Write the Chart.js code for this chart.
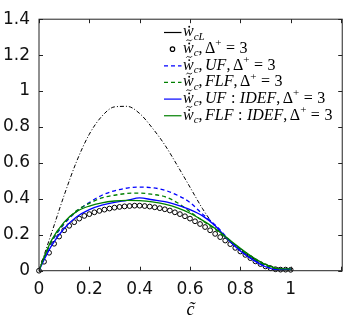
<!DOCTYPE html>
<html>
<head>
<meta charset="utf-8">
<script src="https://cdn.jsdelivr.net/npm/chart.js@4/dist/chart.umd.min.js"></script>
<style>
  body { margin: 0; background: #fff; }
</style>
</head>
<body>
<canvas id="rateChart" width="350" height="330"></canvas>
<script>
// progress variable grid for the line series
const cGrid = [0, 0.02, 0.05, 0.1, 0.15, 0.2, 0.25, 0.3, 0.35, 0.4, 0.45, 0.5,
  0.55, 0.6, 0.65, 0.7, 0.75, 0.8, 0.85, 0.9, 0.95, 1.0];

// laminar reaction rate (dash-dot black)
const wLaminar = [0, 0.085, 0.21, 0.42, 0.61, 0.76, 0.86, 0.912, 0.915, 0.875, 0.795, 0.70,
  0.585, 0.465, 0.345, 0.245, 0.17, 0.115, 0.07, 0.035, 0.015, 0.01];

// filtered rates, Delta+ = 3
const wUF = [0, 0.07, 0.16, 0.26, 0.33, 0.38, 0.42, 0.445, 0.46, 0.465, 0.462, 0.448,
  0.42, 0.38, 0.315, 0.255, 0.18, 0.115, 0.065, 0.025, 0.008, 0.008];
const wFLF = [0, 0.07, 0.165, 0.265, 0.335, 0.375, 0.405, 0.42, 0.43, 0.432, 0.425, 0.412,
  0.378, 0.328, 0.278, 0.23, 0.175, 0.12, 0.07, 0.03, 0.01, 0.008];
const wUFIdef = [0, 0.06, 0.14, 0.235, 0.3, 0.34, 0.365, 0.38, 0.392, 0.405, 0.395, 0.385,
  0.365, 0.34, 0.305, 0.25, 0.175, 0.11, 0.06, 0.022, 0.005, 0.01];
const wFLFIdef = [0, 0.075, 0.17, 0.27, 0.33, 0.36, 0.378, 0.388, 0.392, 0.39, 0.383, 0.37,
  0.35, 0.32, 0.28, 0.235, 0.18, 0.125, 0.075, 0.035, 0.012, 0.01];

// DNS filtered rate (open circles)
const cDns = [0, 0.02, 0.04, 0.06, 0.08, 0.1, 0.12, 0.14, 0.16, 0.18, 0.2, 0.22, 0.24, 0.26,
  0.28, 0.3, 0.32, 0.34, 0.36, 0.38, 0.4, 0.42, 0.44, 0.46, 0.48, 0.5, 0.52, 0.54, 0.56,
  0.58, 0.6, 0.62, 0.64, 0.66, 0.68, 0.7, 0.72, 0.74, 0.76, 0.78, 0.8, 0.82, 0.84, 0.86,
  0.88, 0.9, 0.92, 0.94, 0.96, 0.98, 1.0];
const wDns = [0, 0.05, 0.1, 0.15, 0.19, 0.225, 0.25, 0.27, 0.29, 0.305, 0.315, 0.325, 0.333,
  0.34, 0.346, 0.351, 0.355, 0.358, 0.36, 0.362, 0.362, 0.36, 0.357, 0.353, 0.348, 0.342,
  0.335, 0.325, 0.315, 0.303, 0.29, 0.275, 0.26, 0.243, 0.225, 0.205, 0.187, 0.168, 0.148,
  0.127, 0.107, 0.088, 0.07, 0.052, 0.037, 0.024, 0.014, 0.008, 0.006, 0.006, 0.005];

const xTicks = [0, 0.2, 0.4, 0.6, 0.8, 1, 1.2];
const xTickLabels = ["0", "0.2", "0.4", "0.6", "0.8", "1", ""];
const yTicks = [0, 0.2, 0.4, 0.6, 0.8, 1, 1.2, 1.4];
const yTickLabels = ["0", "0.2", "0.4", "0.6", "0.8", "1", "1.2", "1.4"];

const pts = (xs, ys) => xs.map((x, i) => ({ x: x, y: ys[i] }));

// legend text pieces: t = text, it = italic, sub/sup, acc = accent over glyph
const W = { t: "w", it: true, acc: "tdot" };
const cSub = { t: "c", it: true, sub: true };
const comma = { t: ",", post: 2.5 };
const deltaTail = [{ t: "Δ" }, { t: "+", sup: true }, { t: "=", pre: 4.5, post: 4.5 }, { t: "3" }];
const legendLabels = [
  [{ t: "w", it: true, acc: "dot" }, { t: "cL", it: true, sub: true }],
  [W, cSub, comma].concat(deltaTail),
  [W, cSub, comma, { t: "UF", it: true }, comma].concat(deltaTail),
  [W, cSub, comma, { t: "FLF", it: true }, comma].concat(deltaTail),
  [W, cSub, comma, { t: "UF", it: true }, { t: ":", pre: 4.5, post: 4.5 }, { t: "IDEF", it: true }, comma].concat(deltaTail),
  [W, cSub, comma, { t: "FLF", it: true }, { t: ":", pre: 4.5, post: 4.5 }, { t: "IDEF", it: true }, comma].concat(deltaTail)
];

function drawMath(ctx, segs, x, y) {
  ctx.fillStyle = "#000";
  ctx.textBaseline = "alphabetic";
  ctx.textAlign = "left";
  segs.forEach(function (s) {
    const small = s.sub || s.sup;
    ctx.font = (s.it ? "italic " : "") + (small ? 11 : 16) + "px 'Liberation Serif'";
    const dy = s.sub ? 3.5 : (s.sup ? -6.5 : 0);
    x += s.pre || 0;
    ctx.fillText(s.t, x, y + dy);
    const w = ctx.measureText(s.t).width;
    if (s.acc) {
      const cx = x + w * 0.58;
      ctx.beginPath();
      ctx.arc(cx, y - 9.5, 0.95, 0, Math.PI * 2);
      ctx.fill();
      if (s.acc === "tdot") {
        ctx.save();
        ctx.strokeStyle = "#000";
        ctx.lineWidth = 0.9;
        ctx.beginPath();
        ctx.moveTo(cx - 2.8, y - 12);
        ctx.bezierCurveTo(cx - 1.5, y - 14.2, cx - 0.5, y - 12.4, cx, y - 12.6);
        ctx.bezierCurveTo(cx + 0.6, y - 12.8, cx + 1.5, y - 11.2, cx + 2.8, y - 13.4);
        ctx.stroke();
        ctx.restore();
      }
    }
    x += w + (s.post || 0);
  });
}

const boxPlugin = {
  id: "boxAndLegend",
  afterDatasetsDraw(chart) {
    const ctx = chart.ctx;
    const a = chart.chartArea;
    const xs = chart.scales.x, ys = chart.scales.y;
    ctx.save();
    ctx.strokeStyle = "#222";
    ctx.lineWidth = 1;
    ctx.strokeRect(a.left, a.top, a.right - a.left, a.bottom - a.top);
    ctx.beginPath();
    xTicks.forEach(function (v) {
      const px = Math.round(xs.getPixelForValue(v)) + 0.5;
      ctx.moveTo(px, a.bottom); ctx.lineTo(px, a.bottom - 4);
      ctx.moveTo(px, a.top); ctx.lineTo(px, a.top + 4);
    });
    yTicks.forEach(function (v) {
      const py = Math.round(ys.getPixelForValue(v)) + 0.5;
      ctx.moveTo(a.left, py); ctx.lineTo(a.left + 4, py);
      ctx.moveTo(a.right, py); ctx.lineTo(a.right - 4, py);
    });
    ctx.stroke();
    ctx.restore();
  },
  afterDraw(chart) {
    const ctx = chart.ctx;
    ctx.save();
    chart.data.datasets.forEach(function (ds, i) {
      const ly = 32.5 + i * 16.65;
      if (ds.showLine === false) {
        ctx.strokeStyle = ds.borderColor;
        ctx.lineWidth = 1.2;
        ctx.beginPath();
        ctx.arc(172.5, ly, 2.2, 0, Math.PI * 2);
        ctx.stroke();
      } else {
        ctx.strokeStyle = ds.borderColor;
        ctx.lineWidth = 1.2;
        ctx.setLineDash(i === 0 ? [] : (ds.borderDash || []));
        ctx.beginPath();
        ctx.moveTo(164, ly); ctx.lineTo(181.5, ly);
        ctx.stroke();
        ctx.setLineDash([]);
      }
      drawMath(ctx, legendLabels[i], 183, ly + 3.8);
    });
    ctx.restore();
  }
};

const lineStyle = { showLine: true, pointRadius: 0, cubicInterpolationMode: "monotone", borderWidth: 1.3 };

new Chart(document.getElementById("rateChart"), {
  type: "scatter",
  data: {
    datasets: [
      Object.assign({}, lineStyle, { label: "cL", data: pts(cGrid, wLaminar), borderColor: "#000", borderWidth: 1, borderDash: [4, 2, 1, 2], order: 6 }),
      { label: "DNS", data: pts(cDns, wDns), showLine: false, pointRadius: 2.4, pointBorderWidth: 1,
        borderColor: "#000", pointBackgroundColor: "rgba(255,255,255,0)", clip: false, order: 5 },
      Object.assign({}, lineStyle, { label: "UF", data: pts(cGrid, wUF), borderColor: "#0000ff", borderDash: [4, 3], order: 4 }),
      Object.assign({}, lineStyle, { label: "FLF", data: pts(cGrid, wFLF), borderColor: "#008000", borderDash: [4, 3], order: 3 }),
      Object.assign({}, lineStyle, { label: "UF IDEF", data: pts(cGrid, wUFIdef), borderColor: "#0000ff", order: 2 }),
      Object.assign({}, lineStyle, { label: "FLF IDEF", data: pts(cGrid, wFLFIdef), borderColor: "#008000", order: 1 })
    ]
  },
  options: {
    responsive: false,
    animation: false,
    devicePixelRatio: 1,
    layout: { padding: { top: 16, right: 6, left: 0, bottom: 0 } },
    plugins: { legend: { display: false }, tooltip: { enabled: false } },
    scales: {
      x: {
        type: "linear", min: 0, max: 1.205,
        afterBuildTicks: function (s) { s.ticks = xTicks.map(function (v) { return { value: v }; }); },
        afterFit: function (s) { s.height = 59.3; },
        grid: { display: false, drawTicks: false },
        border: { display: false },
        ticks: {
          padding: 9, color: "#111", font: { family: "DejaVu Sans", size: 17 },
          callback: function (v, i) { return xTickLabels[i]; }
        },
        title: { display: true, text: "c\u0303", color: "#000", padding: { top: 0, bottom: 9 },
          font: { family: "Liberation Serif", style: "italic", size: 18 } }
      },
      y: {
        type: "linear", min: 0, max: 1.4,
        afterBuildTicks: function (s) { s.ticks = yTicks.map(function (v) { return { value: v }; }); },
        afterFit: function (s) { s.width = 39; },
        grid: { display: false, drawTicks: false },
        border: { display: false },
        ticks: {
          padding: 9, color: "#111", font: { family: "DejaVu Sans", size: 17 },
          callback: function (v, i) { return yTickLabels[i]; }
        }
      }
    }
  },
  plugins: [boxPlugin]
});
</script>
</body>
</html>
